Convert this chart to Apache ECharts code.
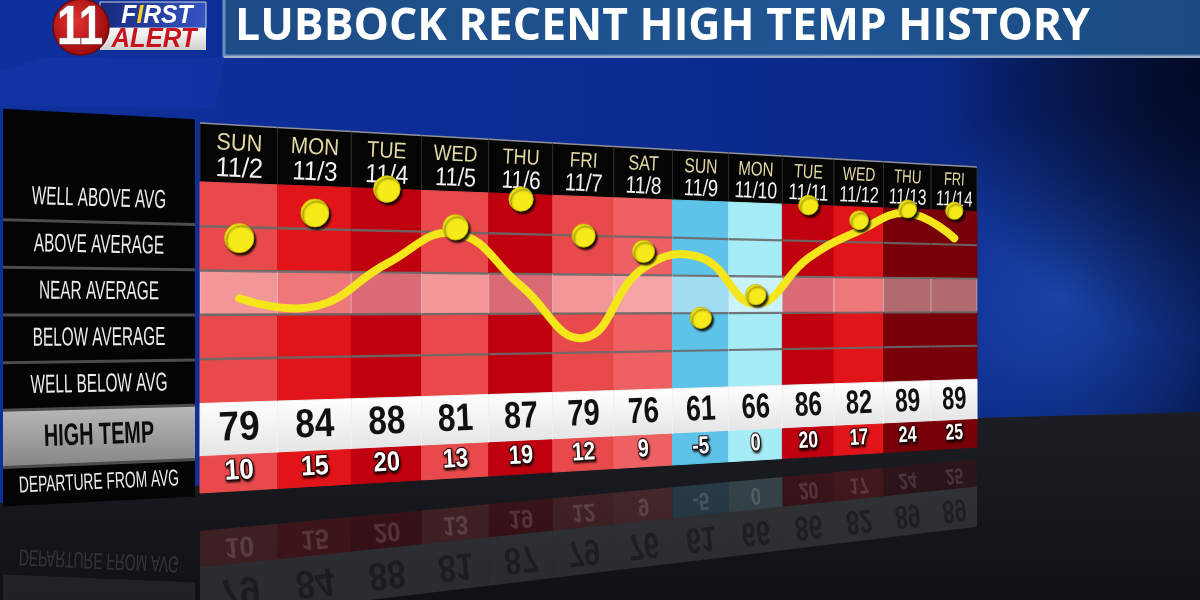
<!DOCTYPE html>
<html>
<head>
<meta charset="utf-8">
<title>Lubbock Recent High Temp History</title>
<script src="https://cdn.jsdelivr.net/npm/echarts@6.0.0/dist/echarts.min.js"></script>
<style>
  html, body { margin: 0; padding: 0; background: #0b2a8c; }
  #chart { width: 1200px; height: 600px; }
</style>
</head>
<body>
<div id="chart"></div>
<script>
const days = ["SUN", "MON", "TUE", "WED", "THU", "FRI", "SAT", "SUN", "MON", "TUE", "WED", "THU", "FRI"];
const dates = ["11/2", "11/3", "11/4", "11/5", "11/6", "11/7", "11/8", "11/9", "11/10", "11/11", "11/12", "11/13", "11/14"];
const highTemps = [79, 84, 88, 81, 87, 79, 76, 61, 66, 86, 82, 89, 89];
const departures = [10, 15, 20, 13, 19, 12, 9, -5, 0, 20, 17, 24, 25];
// yellow trend line, read as departure (deg) at each day
const trend = [-1, -2.5, 5.7, 11.8, 1.6, -9, 5.5, 7.9, -2, 8.2, 14.6, 19, 13.5];
// band edges in degrees of departure (8 deg per band)
const bandEdges = [20, 12, 4, -4, -12, -20];
const bandLabels = ["WELL ABOVE AVG", "ABOVE AVERAGE", "NEAR AVERAGE", "BELOW AVERAGE", "WELL BELOW AVG"];
const highTempLabel = "HIGH TEMP";
const departureLabel = "DEPARTURE FROM AVG";
const titleText = "LUBBOCK RECENT HIGH TEMP HISTORY";

// layout
const BAND = bandEdges[0] - bandEdges[1];
const HEAD = bandEdges[0] + 1.33 * BAND;
const LOW = bandEdges[bandEdges.length - 1];
const TEMP_BOT = LOW - 1.2 * BAND;
const DEP_BOT = TEMP_BOT - 0.82 * BAND;

const G = { x: 200, y: 123, w: 777, h: 370 };      // flat grid = left edge of the board
const EDGE_R = { top: 167, bot: 447 };             // right edge of the board on screen
const DEPTH = 1.33;                                // far/near depth ratio
const MIRROR = { left: 512, right: 453 };          // floor reflection line
const PANEL = { l: 3, r: 195, cy: 313, kL: 1.075, kR: 1.02, mirror: 521 };
const NUM_FONT = '"Liberation Sans", Arial, sans-serif';

function fOf(x) {
  const u = (x - G.x) / G.w;
  return DEPTH * u / (1 + (DEPTH - 1) * u);
}
function warp(p) {
  const f = fOf(p[0]), t = (p[1] - G.y) / G.h;
  const top = G.y + (EDGE_R.top - G.y) * f;
  const bot = G.y + G.h + (EDGE_R.bot - G.y - G.h) * f;
  return [G.x + G.w * f, top + (bot - top) * t];
}
function mirrorPt(p) {
  const f = (p[0] - G.x) / G.w;
  const m = MIRROR.left + (MIRROR.right - MIRROR.left) * f;
  return [p[0], 2 * m - p[1]];
}
function scaleAt(X) {
  const f = (X - G.x) / G.w;
  return 1 - (1 - (EDGE_R.bot - EDGE_R.top) / G.h) * f;
}
function P(api, x, y, mir) {
  const p = warp(api.coord([x, y]));
  return mir ? mirrorPt(p) : p;
}

function depColor(d) {
  if (d >= 22) return '#780009';
  if (d >= 18) return '#bf000f';
  if (d >= 14) return '#e11519';
  if (d >= 10) return '#e84a4b';
  if (d >= 6) return '#ee6163';
  if (d >= -2) return '#a6ecf6';
  return '#5ec3e8';
}
function mix(a, b, t) {
  const pa = parseInt(a.slice(1), 16), pb = parseInt(b.slice(1), 16);
  const ch = (v, s) => (v >> s) & 255;
  const c = [16, 8, 0].map(s => Math.round(ch(pa, s) * (1 - t) + ch(pb, s) * t));
  return 'rgb(' + c.join(',') + ')';
}

function cell(api, i, yt, yb, fill, stroke, mir, opacity) {
  return {
    type: 'polygon',
    shape: { points: [P(api, i, yt, mir), P(api, i + 1, yt, mir), P(api, i + 1, yb, mir), P(api, i, yb, mir)] },
    style: { fill: fill, stroke: stroke || null, lineWidth: 1, opacity: opacity == null ? 1 : opacity }
  };
}

function cellText(api, i, yv, text, o, mir) {
  const a = P(api, i, yv, mir), b = P(api, i + 1, yv, mir), c = P(api, i + 0.5, yv, mir);
  const s = scaleAt(c[0]);
  const sx = (b[0] - a[0]) / (G.w * DEPTH / days.length * s);
  return {
    type: 'text',
    x: c[0], y: c[1],
    rotation: -Math.atan2(b[1] - a[1], b[0] - a[0]),
    scaleX: sx * o.squeeze,
    scaleY: mir ? -1 : 1,
    style: Object.assign({
      text: text,
      align: 'center', verticalAlign: 'middle',
      textAlign: 'center', textVerticalAlign: 'middle',
      fontFamily: NUM_FONT, fontSize: o.size * s,
      fontWeight: o.weight || 'normal', fill: o.fill,
      opacity: o.opacity == null ? 1 : o.opacity
    }, o.extra || {})
  };
}

const whiteRow = { type: 'linear', x: 0, y: 0, x2: 0, y2: 1,
  colorStops: [{ offset: 0, color: '#ffffff' }, { offset: 1, color: '#e4e4e4' }] };

function renderTable(params, api) {
  const i = params.dataIndex;
  const col = depColor(departures[i]);
  const kids = [];
  kids.push(cell(api, i, HEAD, bandEdges[0], '#050505', '#2c2c2c'));
  for (let b = 0; b < bandEdges.length - 1; b++) {
    const yt = bandEdges[b], yb = bandEdges[b + 1];
    const near = yt > 0 && yb < 0;
    kids.push(near ? cell(api, i, yt, yb, mix(col, '#ffffff', 0.42), 'rgba(255,255,255,0.35)')
                   : cell(api, i, yt, yb, col, col));
  }
  kids.push(cell(api, i, LOW, TEMP_BOT, whiteRow, '#f2f2f2'));
  kids.push(cell(api, i, TEMP_BOT, DEP_BOT, col, col));
  for (let b = 1; b < bandEdges.length - 1; b++) {
    const a = P(api, i, bandEdges[b]), c = P(api, i + 1, bandEdges[b]);
    kids.push({ type: 'polyline', shape: { points: [a, c] },
      style: { stroke: 'rgba(105,105,105,0.9)', lineWidth: 2.6 * scaleAt(a[0]), fill: null } });
  }
  const ht = P(api, i, HEAD), hr = P(api, i + 1, HEAD);
  kids.push({ type: 'polyline', shape: { points: [ht, hr] },
    style: { stroke: 'rgba(190,190,200,0.7)', lineWidth: 1.5, fill: null } });

  const hTop = HEAD - bandEdges[0];
  kids.push(cellText(api, i, HEAD - 0.32 * hTop, days[i], { size: 24, squeeze: 0.93, fill: '#e2d8a2' }));
  kids.push(cellText(api, i, HEAD - 0.76 * hTop, dates[i], { size: 28, squeeze: 0.93, fill: '#f2f2f2' }));
  kids.push(cellText(api, i, (LOW + TEMP_BOT) / 2, String(highTemps[i]),
    { size: 42, squeeze: 0.9, weight: 'bold', fill: '#111111' }));
  kids.push(cellText(api, i, (TEMP_BOT + DEP_BOT) / 2 + 0.3, String(departures[i]),
    { size: 29, squeeze: 0.93, weight: 'bold', fill: '#ffffff',
      extra: { stroke: 'rgba(40,10,10,0.85)', lineWidth: 2.5, strokeFirst: true,
               textShadowColor: 'rgba(0,0,0,0.7)', textShadowBlur: 2, textShadowOffsetX: 1, textShadowOffsetY: 2 } }));
  return { type: 'group', children: kids };
}

function renderReflection(params, api) {
  const i = params.dataIndex;
  const col = depColor(departures[i]);
  const kids = [];
  kids.push(cell(api, i, TEMP_BOT, DEP_BOT, col, null, true, 0.2));
  kids.push(cell(api, i, LOW, TEMP_BOT, '#ffffff', null, true, 0.11));
  kids.push(cellText(api, i, (LOW + TEMP_BOT) / 2, String(highTemps[i]),
    { size: 42, squeeze: 0.9, weight: 'bold', fill: '#000000', opacity: 0.35 }, true));
  kids.push(cellText(api, i, (TEMP_BOT + DEP_BOT) / 2, String(departures[i]),
    { size: 29, squeeze: 0.93, weight: 'bold', fill: '#ffffff', opacity: 0.14 }, true));
  return { type: 'group', children: kids };
}

function renderTrend(params, api) {
  if (params.dataIndex !== 0) return null;
  const pts = trend.map((v, i) => P(api, i + 0.5, v));
  return { type: 'polyline', shape: { points: pts, smooth: 0.45 },
    style: { stroke: '#f4e61b', lineWidth: 8, fill: null, lineCap: 'round', lineJoin: 'round' } };
}

function renderDot(params, api) {
  const i = params.dataIndex;
  const d = Math.max(LOW, Math.min(bandEdges[0], departures[i]));
  const c = P(api, i + 0.5, d);
  const w = P(api, i + 1, d)[0] - P(api, i, d)[0];
  return { type: 'circle', shape: { cx: c[0], cy: c[1], r: w * 0.19 },
    style: { fill: '#f6ea18', stroke: '#c8b800', lineWidth: 0.8,
      shadowColor: 'rgba(0,0,0,0.85)', shadowBlur: 2, shadowOffsetX: 2, shadowOffsetY: 2.5 } };
}

function panelPt(x, Y, mir) {
  const k = PANEL.kL + (PANEL.kR - PANEL.kL) * (x - PANEL.l) / (PANEL.r - PANEL.l);
  const y = PANEL.cy + (Y - PANEL.cy) * k;
  return [x, mir ? 2 * PANEL.mirror - y : y];
}
function panelCell(Yt, Yb, fill, mir, opacity) {
  return { type: 'polygon',
    shape: { points: [panelPt(PANEL.l, Yt, mir), panelPt(PANEL.r, Yt, mir), panelPt(PANEL.r, Yb, mir), panelPt(PANEL.l, Yb, mir)] },
    style: { fill: fill, opacity: opacity == null ? 1 : opacity } };
}
function panelText(Y, text, o, mir) {
  const xm = (PANEL.l + PANEL.r) / 2;
  const a = panelPt(PANEL.l, Y, mir), b = panelPt(PANEL.r, Y, mir), c = panelPt(xm, Y, mir);
  return { type: 'text', x: c[0], y: c[1],
    rotation: -Math.atan2(b[1] - a[1], b[0] - a[0]),
    scaleX: o.sx, scaleY: mir ? -1 : 1,
    style: { text: text, align: 'center', verticalAlign: 'middle', textAlign: 'center', textVerticalAlign: 'middle',
      fontFamily: NUM_FONT, fontSize: o.size, fontWeight: o.weight || 'normal', fill: o.fill,
      opacity: o.opacity == null ? 1 : o.opacity } };
}

function renderPanel(params, api) {
  const k = params.dataIndex;
  const Y = v => api.coord([0, v])[1];
  const kids = [];
  const labelFont = { size: 26, sx: 0.59, fill: '#ececec' };
  if (k < bandLabels.length) {
    const yt = k === 0 ? HEAD : bandEdges[k], yb = bandEdges[k + 1];
    kids.push(panelCell(Y(yt), Y(yb), '#040404'));
    kids.push(panelText(Y((bandEdges[k] + yb) / 2), bandLabels[k], labelFont));
  } else if (k === bandLabels.length) {
    kids.push(panelCell(Y(LOW), Y(TEMP_BOT), { type: 'linear', x: 0, y: 0, x2: 0, y2: 1,
      colorStops: [{ offset: 0, color: '#b9b9b9' }, { offset: 1, color: '#858585' }] }));
    kids.push(panelText(Y((LOW + TEMP_BOT) / 2), highTempLabel, { size: 31, sx: 0.64, weight: 'bold', fill: '#0c0c0c' }));
    kids.push(panelCell(Y(LOW), Y(TEMP_BOT), '#9a9a9a', true, 0.12));
  } else {
    kids.push(panelCell(Y(TEMP_BOT), Y(DEP_BOT), '#040404'));
    kids.push(panelText(Y((TEMP_BOT + DEP_BOT) / 2), departureLabel, { size: 23, sx: 0.6, fill: '#ececec' }));
    kids.push(panelText(Y((TEMP_BOT + DEP_BOT) / 2), departureLabel, { size: 23, sx: 0.6, fill: '#ffffff', opacity: 0.14 }, true));
  }
  if (k > 0) {
    const yt = k === bandLabels.length + 1 ? TEMP_BOT : bandEdges[k];
    kids.push({ type: 'polyline', shape: { points: [panelPt(PANEL.l, Y(yt)), panelPt(PANEL.r, Y(yt))] },
      style: { stroke: '#4c4c4c', lineWidth: 3, fill: null } });
  }
  return { type: 'group', children: kids };
}

// title fitting
const measure = document.createElement('canvas').getContext('2d');
function fitScale(text, font, width) {
  measure.font = font;
  return width / measure.measureText(text).width;
}
const TITLE_FONT = 'bold 44px "Open Sans", "Liberation Sans", sans-serif';

const colData = days.map((d, i) => [i, 0]);
const chart = echarts.init(document.getElementById('chart'), null, { renderer: 'canvas' });

chart.setOption({
  animation: false,
  backgroundColor: '#0b2a8c',
  grid: { left: G.x, top: G.y, width: G.w, height: G.h, show: false },
  xAxis: { type: 'value', min: 0, max: days.length, show: false },
  yAxis: { type: 'value', min: DEP_BOT, max: HEAD, show: false },
  graphic: [
    { type: 'rect', z: 0, shape: { x: 0, y: 0, width: 1200, height: 600 },
      style: { fill: { type: 'linear', x: 0, y: 0, x2: 1, y2: 0, colorStops: [
        { offset: 0, color: '#0f309c' }, { offset: 0.5, color: '#0c2c94' },
        { offset: 0.8, color: '#0a2884' }, { offset: 1, color: '#061a56' }] } } },
    { type: 'circle', z: 0, shape: { cx: 1060, cy: 300, r: 190 },
      style: { fill: { type: 'radial', x: 0.5, y: 0.5, r: 0.5, colorStops: [
        { offset: 0, color: 'rgba(40,95,215,0.55)' }, { offset: 1, color: 'rgba(40,95,215,0)' }] } } },
    { type: 'circle', z: 0, shape: { cx: 1200, cy: 80, r: 260 },
      style: { fill: { type: 'radial', x: 0.5, y: 0.5, r: 0.5, colorStops: [
        { offset: 0, color: 'rgba(2,8,30,0.9)' }, { offset: 1, color: 'rgba(2,8,30,0)' }] } } },
    { type: 'polygon', z: 0, shape: { points: [[0, 72], [45, 57], [225, 57], [215, 108], [0, 106]] },
      style: { fill: 'rgba(30,70,190,0.22)' } },
    { type: 'polygon', z: 0, shape: { points: [[0, 503], [977, 418], [1200, 412], [1200, 600], [0, 600]] },
      style: { fill: { type: 'linear', x: 0, y: 0, x2: 0, y2: 1, colorStops: [
        { offset: 0, color: '#1d1e23' }, { offset: 1, color: '#101115' }] } } },
    // title bar
    { type: 'rect', z: 10, shape: { x: 224, y: -4, width: 990, height: 60 },
      style: { fill: { type: 'linear', x: 0, y: 0, x2: 1, y2: 0, colorStops: [
        { offset: 0, color: '#1d4c86' }, { offset: 0.6, color: '#1e5592' }, { offset: 1, color: '#1a4a80' }] },
        stroke: '#6a8dbd', lineWidth: 3 } },
    { type: 'rect', z: 10, shape: { x: 224, y: 56, width: 990, height: 2 }, style: { fill: '#a3b3c7' } },
    { type: 'text', z: 11, x: 235, y: 27, scaleX: fitScale(titleText, TITLE_FONT, 855),
      style: { text: titleText, font: TITLE_FONT, fill: '#ffffff',
        textAlign: 'left', textVerticalAlign: 'middle', align: 'left', verticalAlign: 'middle' } },
    // logo
    { type: 'rect', z: 10, shape: { x: 100, y: 2, width: 106, height: 26 },
      style: { fill: { type: 'linear', x: 0, y: 0, x2: 1, y2: 1, colorStops: [
        { offset: 0, color: '#15287a' }, { offset: 1, color: '#3656c4' }] }, stroke: '#c9cfe0', lineWidth: 1 } },
    { type: 'rect', z: 10, shape: { x: 100, y: 28, width: 106, height: 22 },
      style: { fill: { type: 'linear', x: 0, y: 0, x2: 0, y2: 1, colorStops: [
        { offset: 0, color: '#ffffff' }, { offset: 1, color: '#cfcfcf' }] } } },
    { type: 'text', z: 11, x: 157, y: 16, scaleX: 0.95,
      style: { text: '{w|F}{y|I}{w|RST}', textAlign: 'center', textVerticalAlign: 'middle', align: 'center', verticalAlign: 'middle',
        rich: { w: { fill: '#ffffff', fontSize: 26, fontWeight: 'bold', fontStyle: 'italic', fontFamily: NUM_FONT },
                y: { fill: '#f5d21e', fontSize: 26, fontWeight: 'bold', fontStyle: 'italic', fontFamily: NUM_FONT } } } },
    { type: 'text', z: 11, x: 154, y: 40, scaleX: 0.95,
      style: { text: 'ALERT', fill: '#c8121c', fontSize: 27, fontWeight: 'bold', fontStyle: 'italic', fontFamily: NUM_FONT,
        textAlign: 'center', textVerticalAlign: 'middle', align: 'center', verticalAlign: 'middle' } },
    { type: 'circle', z: 12, shape: { cx: 81, cy: 27, r: 28 },
      style: { fill: { type: 'radial', x: 0.4, y: 0.4, r: 0.6, colorStops: [
        { offset: 0, color: '#e53030' }, { offset: 1, color: '#9d0c0e' }] }, stroke: '#6a0a0a', lineWidth: 1.5 } },
    { type: 'text', z: 13, x: 80, y: 29, scaleX: 0.78,
      style: { text: '11', fill: '#ffffff', stroke: '#8a8a8a', lineWidth: 1, fontSize: 56, fontWeight: 'bold', fontFamily: NUM_FONT,
        textAlign: 'center', textVerticalAlign: 'middle', align: 'center', verticalAlign: 'middle' } }
  ],
  series: [
    { type: 'custom', name: 'reflection', z: 1, coordinateSystem: 'cartesian2d', data: colData, renderItem: renderReflection, silent: true },
    { type: 'custom', name: 'labels', z: 2, coordinateSystem: 'cartesian2d', data: [0, 1, 2, 3, 4, 5, 6].map(k => [0, k]), renderItem: renderPanel, silent: true },
    { type: 'custom', name: 'board', z: 2, coordinateSystem: 'cartesian2d', data: colData, renderItem: renderTable, silent: true },
    { type: 'custom', name: 'trend', z: 3, coordinateSystem: 'cartesian2d', data: [[0, 0]], renderItem: renderTrend, silent: true },
    { type: 'custom', name: 'departure', z: 4, coordinateSystem: 'cartesian2d', data: colData, renderItem: renderDot, silent: true }
  ]
});
</script>
</body>
</html>
